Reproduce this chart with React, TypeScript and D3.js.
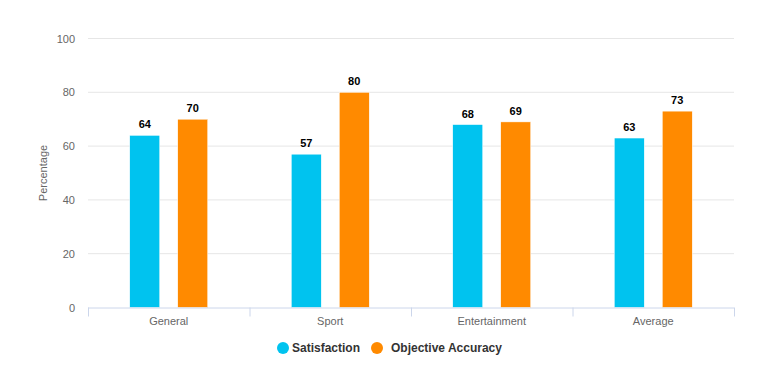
import React from 'react';
import * as d3 from 'd3';

const categories = ['General', 'Sport', 'Entertainment', 'Average'];
const seriesNames = ['Satisfaction', 'Objective Accuracy'];
const satisfaction = [64, 57, 68, 63];
const objectiveAccuracy = [70, 80, 69, 73];
const yTicks = [0, 20, 40, 60, 80, 100];
const colors = ['#00c3ef', '#ff8a00'];

const W = 768;
const H = 384;
const left = 88;
const right = 734;
const top = 38.5;
const bottom = 307.5;

const App = () => {
  const x = d3.scaleBand().domain(categories).range([left, right]);
  // two bars per group, 18px gap between them
  const inner = d3.scaleBand().domain(seriesNames).range([0, x.bandwidth()]).paddingInner(0.375).paddingOuter(0.87);
  const y = d3.scaleLinear().domain([0, 100]).range([bottom, top]);
  const values = [satisfaction, objectiveAccuracy];
  const font = '"Liberation Sans", Arial, sans-serif';

  return (
    <svg width={W} height={H} style={{ position: 'absolute', left: 0, top: 0, fontFamily: font }}>
      <rect width={W} height={H} fill="#fff" />
      {/* grid */}
      {yTicks.map(t => (
        <g key={t}>
          {t > 0 && <line x1={left} x2={right} y1={y(t)} y2={y(t)} stroke="#e6e6e6" />}
          <text x={75} y={y(t) + 4} textAnchor="end" fontSize={11} fill="#666">{t}</text>
        </g>
      ))}
      <text transform={`translate(47,${(top + bottom) / 2}) rotate(-90)`} textAnchor="middle" fontSize={11} fill="#666">Percentage</text>
      {/* bars */}
      {values.map((vals, si) => vals.map((v, i) => {
        const bx = (x(categories[i]) as number) + (inner(seriesNames[si]) as number);
        const bw = inner.bandwidth();
        return (
          <g key={`${si}-${i}`}>
            <rect x={bx} y={y(v)} width={bw} height={bottom - y(v)} fill={colors[si]} stroke="#fff" strokeWidth={0.5} />
            <text x={bx + bw / 2} y={y(v) - 7} textAnchor="middle" fontSize={11} fontWeight="bold" fill="#000">{v}</text>
          </g>
        );
      }))}
      {/* x axis */}
      <line x1={left} x2={right} y1={bottom + 0.5} y2={bottom + 0.5} stroke="#ccd6eb" />
      {[...categories.map(c => x(c) as number), right].map((px, i) => (
        <line key={i} x1={px + 0.5} x2={px + 0.5} y1={bottom} y2={bottom + 9} stroke="#ccd6eb" />
      ))}
      {categories.map(c => (
        <text key={c} x={(x(c) as number) + x.bandwidth() / 2} y={bottom + 17} textAnchor="middle" fontSize={11} fill="#666">{c}</text>
      ))}
      {/* legend */}
      <g>
        <circle cx={283} cy={348} r={6} fill={colors[0]} />
        <text x={292} y={352} fontSize={12} fontWeight="bold" fill="#333">{seriesNames[0]}</text>
        <circle cx={377} cy={348} r={6} fill={colors[1]} />
        <text x={391} y={352} fontSize={12} fontWeight="bold" fill="#333">{seriesNames[1]}</text>
      </g>
    </svg>
  );
};

export default App;
